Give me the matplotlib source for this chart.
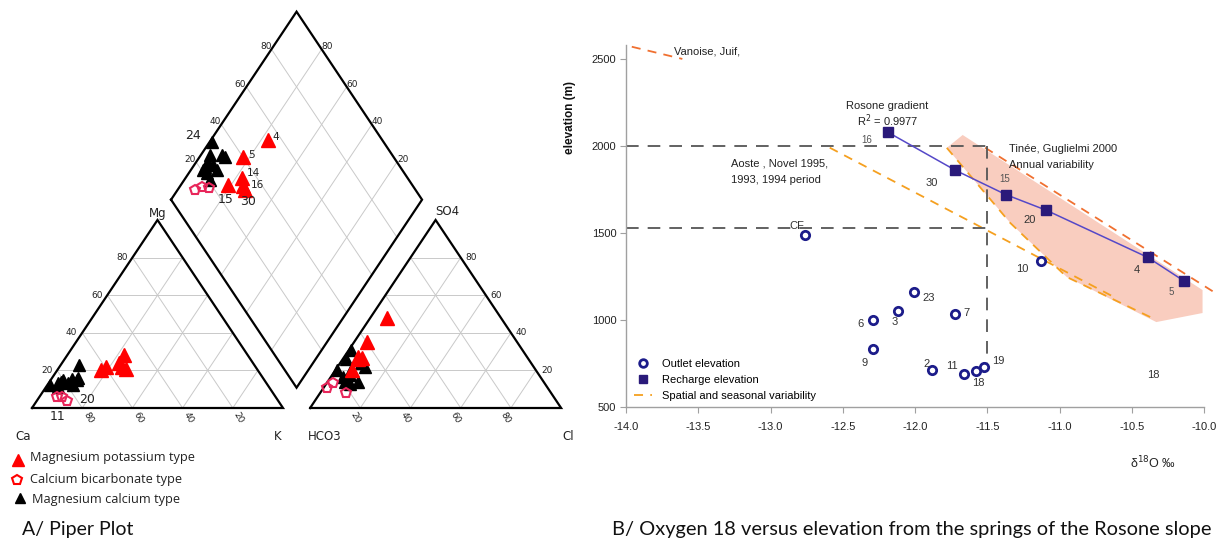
import numpy as np
import matplotlib
matplotlib.use("Agg")
import matplotlib.pyplot as plt
from matplotlib.lines import Line2D

# ---------------- Piper data (percent of meq) ----------------
# Magnesium potassium type (red triangles)
mk_ids = ["4", "5", "14", "16", "30", "15"]
mk_mg = [28, 20, 24, 22, 21, 22]
mk_nak = [22.5, 17.5, 22.5, 25, 27, 18.5]
mk_so4 = [48, 35, 26.5, 27, 26, 20]
mk_cl = [6.5, 5, 7.5, 5.5, 6, 6.5]

# Calcium bicarbonate type (open pentagons)
cb_mg = [6, 6, 3.7]
cb_nak = [7, 9, 12]
cb_so4 = [10.6, 13.3, 8]
cb_cl = [1.5, 2.5, 10.3]

# Magnesium calcium type (black triangles)
mc_mg = [12.2, 13.3, 15.4, 12.2, 11.2, 13.3, 15.9, 13.8, 23.0, 14.9, 14.9]
mc_nak = [1.0, 3.6, 8.4, 10.2, 4.9, 7.5, 10.4, 4.8, 7.2, 10.3, 4.8]
mc_so4 = [30.8, 26, 24, 22, 17.6, 14, 20, 20, 16.5, 13.8, 13]
mc_cl = [0.8, 1.4, 8.2, 10.8, 6.9, 11.9, 6.2, 0.6, 4.9, 6.9, 9.2]

grid_levels = [20, 40, 60, 80]

# ---------------- Oxygen 18 / elevation data ----------------
outlet_ids = ["CF", "6", "9", "3", "23", "7", "2", "11", "18", "19", "10"]
outlet_o18 = [-12.76, -12.29, -12.29, -12.12, -12.01, -11.72, -11.88, -11.66, -11.58, -11.52, -11.13]
outlet_elev = [1490, 1000, 835, 1050, 1160, 1035, 710, 690, 707, 730, 1340]

recharge_ids = ["16", "30", "15", "20", "4", "5"]
recharge_o18 = [-12.19, -11.72, -11.37, -11.09, -10.39, -10.14]
recharge_elev = [2080, 1860, 1720, 1630, 1360, 1225]

vanoise_o18 = [-13.96, -13.61]
vanoise_elev = [2570, 2500]
aoste_o18 = [-12.59, -10.63]
aoste_elev = [1990, 1135]
tinee_left_o18 = [-11.78, -11.34, -10.95, -10.33]
tinee_left_elev = [1989, 1557, 1247, 1000]
tinee_right_o18 = [-11.515, -9.90]
tinee_right_elev = [1990, 1144]
tinee_poly_o18 = [-11.67, -10.01, -10.01, -10.33, -10.95, -11.34, -11.78]
tinee_poly_elev = [2063, 1172, 1040, 988, 1247, 1557, 1989]

ref_o18 = -11.5
ref_elev_high = 2000
ref_elev_low = 1530
ref_elev_bottom = 735

xticks = [-14.0, -13.5, -13.0, -12.5, -12.0, -11.5, -11.0, -10.5, -10.0]
yticks = [500, 1000, 1500, 2000, 2500]

W, H = 1228, 545
fig = plt.figure(figsize=(W / 100, H / 100), dpi=100)

# ================= Piper plot =================
g = 10.8
S = np.sqrt(3) / 2
sx, sy = 2.51, 2.171  # px per unit
ax0 = fig.add_axes([0, 0, 600 / W, 1])
ax0.set_xlim((0 - 32) / sx, (600 - 32) / sx)
ax0.set_ylim((408 - 545) / sy, 408 / sy)
ax0.axis("off")


def cat(mg, nak):
    mg = np.asarray(mg, float); nak = np.asarray(nak, float)
    return nak + mg / 2, mg * S


def an(so4, cl):
    so4 = np.asarray(so4, float); cl = np.asarray(cl, float)
    return 100 + g + cl + so4 / 2, so4 * S


def dia(x0, X1):
    x0 = np.asarray(x0, float); X1 = np.asarray(X1, float)
    return (x0 + X1) / 2, (X1 - x0) / 2 * np.sqrt(3)


def dia_s(nak, so4, cl):
    return dia(np.asarray(nak, float), 100 + g + np.asarray(so4, float) + np.asarray(cl, float))


gc = "#c9c9c9"
glw = 0.7
for v in grid_levels:
    # cation triangle
    ax0.plot(*zip(cat(v, 0), cat(v, 100 - v)), color=gc, lw=glw)
    ax0.plot(*zip(cat(0, v), cat(100 - v, v)), color=gc, lw=glw)
    ax0.plot(*zip(cat(0, v), cat(v, 0)), color=gc, lw=glw)
    # anion triangle
    ax0.plot(*zip(an(v, 0), an(v, 100 - v)), color=gc, lw=glw)
    ax0.plot(*zip(an(0, v), an(100 - v, v)), color=gc, lw=glw)
    ax0.plot(*zip(an(0, v), an(v, 0)), color=gc, lw=glw)
    # diamond
    ax0.plot(*zip(dia(v, 100 + g), dia(v, 200 + g)), color=gc, lw=glw)
    ax0.plot(*zip(dia(0, 100 + g + v), dia(100, 100 + g + v)), color=gc, lw=glw)

ek = dict(color="black", lw=1.6, solid_joinstyle="miter")
ax0.plot(*zip(cat(0, 0), cat(0, 100), cat(100, 0), cat(0, 0)), **ek)
ax0.plot(*zip(an(0, 0), an(0, 100), an(100, 0), an(0, 0)), **ek)
ax0.plot(*zip(dia(0, 100 + g), dia(100, 100 + g), dia(100, 200 + g), dia(0, 200 + g), dia(0, 100 + g)), **ek)

tfs = 6.5
tc = "#222222"
for v in grid_levels:
    x, y = cat(v, 0)
    ax0.text(x - 4.2, y, str(v), fontsize=tfs, ha="center", va="center", color=tc)
    x, y = cat(0, v)
    ax0.text(x + 2.3, y - 4.6, str(100 - v), fontsize=tfs, ha="center", va="center", rotation=-60, color=tc)
    x, y = an(v, 100 - v)
    ax0.text(x + 4.2, y, str(v), fontsize=tfs, ha="center", va="center", color=tc)
    x, y = an(0, v)
    ax0.text(x - 2.0, y - 4.6, str(v), fontsize=tfs, ha="center", va="center", rotation=-60, color=tc)
    x, y = dia(0, 100 + g + v)
    ax0.text(x - 2.3, y + 1.2, str(v), fontsize=tfs, ha="center", va="center", color=tc)
    x, y = dia(100 - v, 200 + g)
    ax0.text(x + 2.3, y + 1.2, str(v), fontsize=tfs, ha="center", va="center", color=tc)

lfs = 8.5
ax0.text(*cat(100, 0), "Mg", fontsize=lfs, ha="center", va="bottom", color=tc)
ax0.text(-3.5, -13, "Ca", fontsize=lfs, ha="center", va="center", color=tc)
ax0.text(98, -13, "K", fontsize=lfs, ha="center", va="center", color=tc)
x, y = an(100, 0)
ax0.text(x + 4.5, y + 1.0, "SO4", fontsize=lfs, ha="center", va="bottom", color=tc)
ax0.text(100 + g + 6, -13, "HCO3", fontsize=lfs, ha="center", va="center", color=tc)
ax0.text(200 + g + 3, -13, "Cl", fontsize=lfs, ha="center", va="center", color=tc)

red = "#ff0000"
pink = "#e8265a"
ms_r, ms_b, ms_p = 10, 9, 7.5
# cation
ax0.plot(*cat(mc_mg, mc_nak), "^", color="black", ms=ms_b, ls="none")
ax0.plot(*cat(mk_mg, mk_nak), "^", color=red, ms=ms_r, ls="none")
ax0.plot(*cat(cb_mg, cb_nak), "p", mfc="none", mec=pink, mew=1.5, ms=ms_p, ls="none")
# anion
ax0.plot(*an(mc_so4, mc_cl), "^", color="black", ms=ms_b, ls="none")
ax0.plot(*an(mk_so4, mk_cl), "^", color=red, ms=ms_r, ls="none")
ax0.plot(*an(cb_so4, cb_cl), "p", mfc="none", mec=pink, mew=1.5, ms=ms_p, ls="none")
# diamond
ax0.plot(*dia_s(mc_nak, mc_so4, mc_cl), "^", color="black", ms=ms_b, ls="none")
ax0.plot(*dia_s(mk_nak, mk_so4, mk_cl), "^", color=red, ms=ms_r, ls="none")
ax0.plot(*dia_s(cb_nak, cb_so4, cb_cl), "p", mfc="none", mec=pink, mew=1.5, ms=ms_p, ls="none")

# sample labels in diamond
dx, dy = dia_s(mk_nak, mk_so4, mk_cl)
mk_off = {"4": (3.4, 1.2), "5": (3.4, 1.3), "14": (4.5, 2.2), "16": (5.5, 0.3), "30": (1.0, -5.3), "15": (-0.8, -7.0)}
for i, s in enumerate(mk_ids):
    ox, oy = mk_off[s]
    ax0.text(dx[i] + ox, dy[i] + oy, s, fontsize=7.5 if s in ("4", "5", "14", "16") else 9,
             ha="center", va="center", color=tc)
x, y = dia_s(mc_nak[0], mc_so4[0], mc_cl[0])
ax0.text(x - 7.5, y + 3.0, "24", fontsize=9, ha="center", va="center", color=tc)
x, y = cat(cb_mg[2], cb_nak[2])
ax0.text(x + 8.0, y + 0.7, "20", fontsize=9, ha="center", va="center", color=tc)
x, y = cat(cb_mg[0], cb_nak[0])
ax0.text(x + 0.3, y - 9.0, "11", fontsize=9, ha="center", va="center", color=tc)

# legend A
lf = dict(fontsize=9.2, family="Open Sans", color="#222222", va="center")
fig.text(30 / W, 1 - 457 / H, "Magnesium potassium type", **lf)
fig.text(30 / W, 1 - 479 / H, "Calcium bicarbonate type", **lf)
fig.text(32 / W, 1 - 499 / H, "Magnesium calcium type", **lf)
fig.add_artist(Line2D([18 / W], [1 - 460 / H], marker="^", color=red, ms=8, transform=fig.transFigure))
fig.add_artist(Line2D([17 / W], [1 - 480 / H], marker="p", mfc="none", mec=red, mew=1.5, ms=7,
                      transform=fig.transFigure))
fig.add_artist(Line2D([20 / W], [1 - 498 / H], marker="^", color="black", ms=7, transform=fig.transFigure))
fig.text(22 / W, 1 - 529 / H, "A/ Piper Plot", fontsize=14, family="Lato", color="#111111", va="center")

# ================= Oxygen 18 vs elevation =================
ax = fig.add_axes([626 / W, 1 - 407 / H, (1204 - 626) / W, (407 - 45) / H])
ax.set_xlim(-14.0, -10.0)
ax.set_ylim(500, 2580)
ax.patch.set_alpha(0)
for sp in ["top", "right"]:
    ax.spines[sp].set_visible(False)
for sp in ["left", "bottom"]:
    ax.spines[sp].set_color("#a0a0a0")
    ax.spines[sp].set_linewidth(1.0)
ax.set_xticks(xticks)
ax.set_xticklabels([f"{v:.1f}" for v in xticks])
ax.set_yticks(yticks)
ax.tick_params(axis="both", colors="#a0a0a0", labelcolor="#222222", labelsize=8, length=4, direction="out")
ax.tick_params(axis="x", pad=7)
ax.tick_params(axis="y", pad=3)
for lab in ax.get_xticklabels() + ax.get_yticklabels():
    lab.set_family("Liberation Sans")

orange = "#f5a020"
redor = "#f07030"
ax.fill(tinee_poly_o18, tinee_poly_elev, color="#f9cdbf", lw=0, zorder=1)
dsh = (0, (5, 4))
ax.plot(vanoise_o18, vanoise_elev, color=redor, lw=1.3, ls=dsh, clip_on=False, zorder=2)
ax.plot(aoste_o18, aoste_elev, color=orange, lw=1.3, ls=dsh, zorder=2)
ax.plot(tinee_left_o18, tinee_left_elev, color=orange, lw=1.3, ls=dsh, zorder=2)
ax.plot(tinee_right_o18, tinee_right_elev, color=redor, lw=1.3, ls=dsh, clip_on=False, zorder=2)

kd = dict(color="#555555", lw=1.3, ls=(0, (7, 5)), zorder=2)
ax.plot([-14.0, ref_o18], [ref_elev_high, ref_elev_high], **kd)
ax.plot([-14.0, ref_o18], [ref_elev_low, ref_elev_low], **kd)
ax.plot([ref_o18, ref_o18], [ref_elev_high, ref_elev_bottom], **kd)

ax.plot(recharge_o18, recharge_elev, color="#5548c8", lw=1.1, zorder=3)
ax.plot(recharge_o18, recharge_elev, "s", color="#2a1a7a", ms=6.5, ls="none", zorder=4)
ax.plot(outlet_o18, outlet_elev, "o", mfc="white", mec="#1c1c8a", mew=2, ms=6, ls="none", zorder=4)

pfs = 8
lc = "#333333"
out_off = {"CF": (-6, 6), "6": (-9, -3), "9": (-6, -10), "3": (-2, -8), "23": (11, -4), "7": (8, 1),
           "2": (-4, 5), "11": (-9, 6), "18": (2, -9), "19": (10, 4), "10": (-13, -6)}
for s, xv, yv in zip(outlet_ids, outlet_o18, outlet_elev):
    ax.annotate(s, (xv, yv), xytext=out_off[s], textcoords="offset points", fontsize=pfs,
                ha="center", va="center", color=lc, family="Liberation Sans", zorder=5)
rec_off = {"16": (-15, -6), "30": (-17, -9), "15": (-1, 11), "20": (-12, -7), "4": (-8, -9), "5": (-9, -8)}
for s, xv, yv in zip(recharge_ids, recharge_o18, recharge_elev):
    ax.annotate(s, (xv, yv), xytext=rec_off[s], textcoords="offset points",
                fontsize=7 if s in ("16", "15", "5") else pfs,
                ha="center", va="center", color="#555555" if s in ("16", "15", "5") else lc,
                family="Liberation Sans", zorder=5)
ax.text(-10.35, 684, "18", fontsize=pfs, ha="center", va="center", color=lc, family="Liberation Sans")

tf = dict(fontsize=8, color="#222222", family="Liberation Sans")
ax.text(-13.67, 2540, "Vanoise, Juif,", va="center", ha="left", **tf)
ax.text(-12.19, 2230, "Rosone gradient", va="center", ha="center", **tf)
ax.text(-12.19, 2145, "R$^2$ = 0.9977", va="center", ha="center", **tf)
ax.text(-13.27, 1897, "Aoste , Novel 1995,", va="center", ha="left", **tf)
ax.text(-13.27, 1805, "1993, 1994 period", va="center", ha="left", **tf)
ax.text(-11.35, 1980, "Tinée, Guglielmi 2000", va="center", ha="left", **tf)
ax.text(-11.35, 1893, "Annual variability", va="center", ha="left", **tf)

handles = [Line2D([], [], marker="o", mfc="white", mec="#1c1c8a", mew=2, ms=5.5, ls="none"),
           Line2D([], [], marker="s", color="#2a1a7a", ms=6, ls="none"),
           Line2D([], [], color=orange, lw=1.3, ls=(0, (5, 4)))]
leg = ax.legend(handles, ["Outlet elevation", "Recharge elevation", "Spatial and seasonal variability"],
                loc="lower left", bbox_to_anchor=(0.0, -0.005), frameon=False, handlelength=1.6,
                prop={"family": "Liberation Sans", "size": 8}, labelspacing=0.55, handletextpad=0.9,
                borderaxespad=0.3)

fig.text(570 / W, 1 - 118 / H, "elevation (m)", rotation=90, fontsize=8.5, fontweight="bold",
         family="Liberation Sans", ha="center", va="center", color="#111111")
fig.text(1153 / W, 1 - 463 / H, "δ$^{18}$O ‰", fontsize=9, family="Liberation Sans",
         ha="center", va="center", color="#222222")
fig.text(612 / W, 1 - 529 / H, "B/ Oxygen 18 versus elevation from the springs of the Rosone slope",
         fontsize=14.4, family="Lato", color="#111111", va="center")

fig.savefig("out.png", dpi=100)
